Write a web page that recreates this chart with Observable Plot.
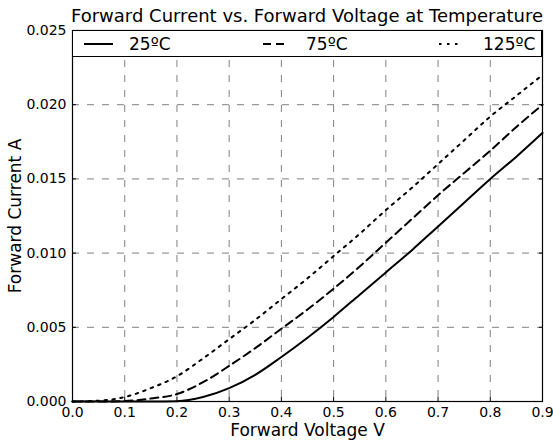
<!DOCTYPE html>
<html>
<head>
<meta charset="utf-8">
<script src="https://cdn.jsdelivr.net/npm/d3@7"></script>
<script src="https://cdn.jsdelivr.net/npm/@observablehq/plot@0.6"></script>
<style>
  body { margin: 0; background: #fff; font-family: "DejaVu Sans", sans-serif; }
  #wrap { position: relative; width: 553px; height: 441px; }
  #title { position: absolute; left: 0; width: 614px; top: 6px; line-height: 20px; text-align: center; font-size: 18px; color: #000; white-space: nowrap; }
  #legend { position: absolute; left: 72px; top: 30px; width: 470px; height: 27px; box-sizing: border-box; border: 1px solid #000; background: #fff; }
  .lg-text { position: absolute; top: 2px; line-height: 22px; font-size: 17px; color: #000; white-space: nowrap; }
  .lg-sw { position: absolute; top: 0; }
</style>
</head>
<body>
<div id="wrap">
  <div id="title">Forward Current vs. Forward Voltage at Temperature</div>
  <div id="legend"></div>
</div>
<script>
// ---- data ----
const voltage = [0, 0.05, 0.1, 0.15, 0.2, 0.25, 0.3, 0.35, 0.4, 0.45, 0.5, 0.55, 0.6, 0.65, 0.7, 0.75, 0.8, 0.85, 0.9];
const current25 = [0, 0, 0, 0, 0.00002, 0.0003, 0.0009, 0.0018, 0.0030, 0.0043, 0.0057, 0.0072, 0.0087, 0.0102, 0.0118, 0.0134, 0.0150, 0.0165, 0.0181];
const current75 = [0, 0, 0.00003, 0.0002, 0.0005, 0.0013, 0.0024, 0.0036, 0.0049, 0.0062, 0.0076, 0.0091, 0.0107, 0.0123, 0.0139, 0.0154, 0.0169, 0.0185, 0.0200];
const current125 = [0, 0.00005, 0.0003, 0.0009, 0.0017, 0.0029, 0.0042, 0.0055, 0.0069, 0.0083, 0.0098, 0.0113, 0.0129, 0.0144, 0.0160, 0.0176, 0.0192, 0.0206, 0.0220];
const seriesNames = ["25ºC", "75ºC", "125ºC"];
const xTicks = [0, 0.1, 0.2, 0.3, 0.4, 0.5, 0.6, 0.7, 0.8, 0.9];
const yTicks = [0, 0.005, 0.010, 0.015, 0.020, 0.025];

// ---- styles ----
const dashes = [null, "8,5", "2.5,5.5"];
const seriesCurrents = [current25, current75, current125];

const rows = seriesCurrents.map((arr, i) => voltage.map((v, j) => ({v, c: arr[j], s: seriesNames[i]})));
const gridXTicks = xTicks.slice(1, -1);
const gridYTicks = yTicks.slice(1, -1);

const chart = Plot.plot({
  width: 553,
  height: 441,
  marginLeft: 72,
  marginRight: 11,
  marginTop: 30,
  marginBottom: 40,
  style: {fontFamily: "DejaVu Sans", fontSize: "14px", color: "#000", background: "#fff"},
  x: {domain: [0, 0.9], axis: null},
  y: {domain: [0, 0.025], axis: null},
  marks: [
    Plot.gridX(gridXTicks, {stroke: "#808080", strokeOpacity: 1, strokeWidth: 1, strokeDasharray: "7,8"}),
    Plot.gridY(gridYTicks, {stroke: "#808080", strokeOpacity: 1, strokeWidth: 1, strokeDasharray: "7,8"}),
    ...rows.map((r, i) => Plot.line(r, {x: "v", y: "c", stroke: "#000", strokeWidth: 2, curve: "monotone-x", strokeDasharray: dashes[i]})),
    // tick labels
    Plot.axisX(xTicks, {anchor: "bottom", tickSize: 0, tickPadding: 6, tickFormat: d => d.toFixed(1), label: null, fontSize: 14}),
    Plot.axisY(yTicks, {anchor: "left", tickSize: 0, tickPadding: 6, tickFormat: d => d.toFixed(3), label: null, fontSize: 14}),
    // inward ticks
    Plot.axisX(xTicks, {anchor: "bottom", tickSize: 4, dy: -4, fill: "none", label: null}),
    Plot.axisY(yTicks, {anchor: "left", tickSize: 4, dx: 4, fill: "none", label: null}),
    Plot.axisY(yTicks, {anchor: "right", tickSize: 4, dx: -4, fill: "none", label: null}),
    // axis titles
    Plot.axisX([], {anchor: "bottom", tickSize: 0, label: "Forward Voltage V", labelAnchor: "center", labelOffset: 34, labelArrow: "none", fontSize: 17}),
    Plot.axisY([], {anchor: "left", tickSize: 0, label: "Forward Current A", labelAnchor: "center", labelOffset: 64, labelArrow: "none", fontSize: 17}),
    Plot.frame({stroke: "#000", strokeWidth: 1.2})
  ]
});
document.getElementById("wrap").prepend(chart);
chart.style.position = "absolute";
chart.style.left = "0";
chart.style.top = "0";

// ---- legend (inside the plot frame, top) ----
const legend = document.getElementById("legend");
const swatchPos = [[11, 40], [190, 212], [366, 387]];
const textPos = [56, 233, 410];
seriesNames.forEach((name, i) => {
  const [a, b] = swatchPos[i];
  const svg = d3.create("svg").attr("class", "lg-sw").attr("width", b - a).attr("height", 25).style("left", a + "px");
  svg.append("line").attr("x1", 0).attr("x2", b - a).attr("y1", 13).attr("y2", 13)
    .attr("stroke", "#000").attr("stroke-width", 2).attr("stroke-dasharray", dashes[i]);
  legend.appendChild(svg.node());
  const t = document.createElement("div");
  t.className = "lg-text";
  t.style.left = textPos[i] + "px";
  t.textContent = name;
  legend.appendChild(t);
});
</script>
</body>
</html>
